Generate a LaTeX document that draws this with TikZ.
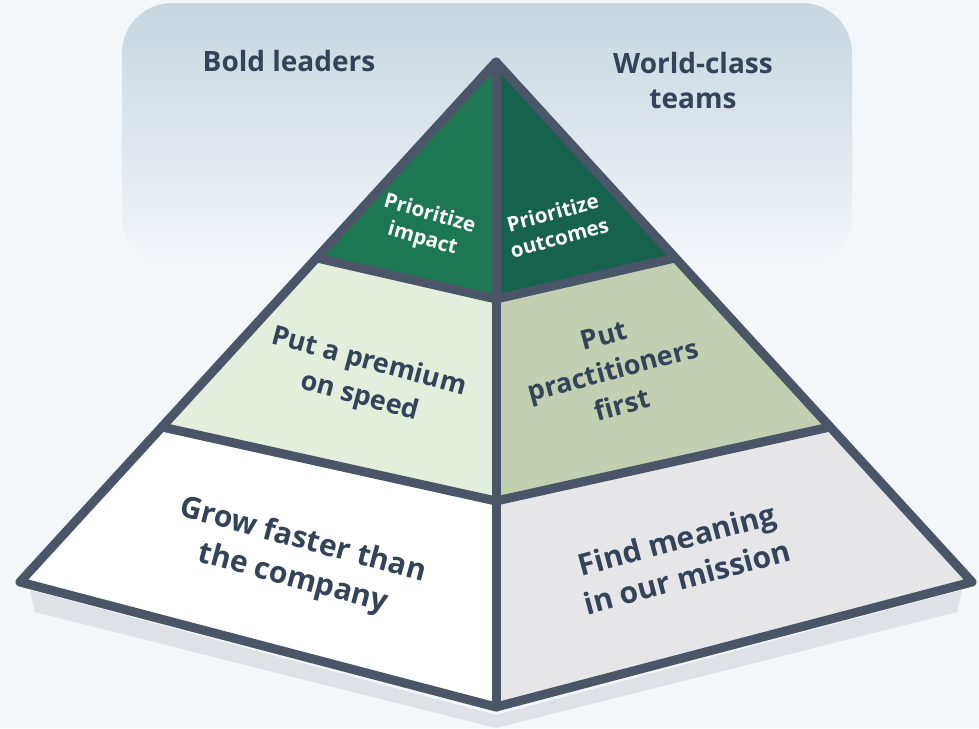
\documentclass[tikz,border=0pt]{standalone}
\usepackage{fontspec}
\setmainfont{Open Sans}
\usepackage{tikz}
\usetikzlibrary{positioning}

\definecolor{bgcol}{HTML}{F4F7FA}
\definecolor{skycol}{HTML}{C8D5DF}
\definecolor{edgecol}{HTML}{4B5568}
\definecolor{inkcol}{HTML}{34435A}
\definecolor{shadowcol}{HTML}{DEE2E7}
\definecolor{topleft}{HTML}{1D7753}
\definecolor{topright}{HTML}{17624C}
\definecolor{midleft}{HTML}{E3EEDD}
\definecolor{midright}{HTML}{C2CFB0}
\definecolor{lowleft}{HTML}{FFFFFF}
\definecolor{lowright}{HTML}{E6E6E8}

\tikzset{
  edge/.style={draw=edgecol, line width=9pt, line join=round, line cap=round},
  lbl/.style={text=inkcol, font=\bfseries, align=center, inner sep=0pt},
  toplbl/.style={text=white, font=\fontsize{20.5}{26}\selectfont\bfseries, align=center, inner sep=0pt},
}

\begin{document}
\begin{tikzpicture}[x=1pt, y=-1pt]
            \useasboundingbox (0,0) rectangle (979,728);
            \fill[bgcol] (0,0) rectangle (979,728);
            \shade[top color=skycol, bottom color=bgcol, rounded corners=50pt] (122,3) rectangle (852,268);
            % corners of the pyramid
            \coordinate (apex) at (496,62);
            \coordinate (lft) at (20,582);
            \coordinate (rgt) at (972,582);
            \coordinate (bot) at (496,707);
            \coordinate (l1) at (317,258);
            \coordinate (c1) at (496,299);
            \coordinate (r1) at (675,258);
            \coordinate (l2) at (162,427);
            \coordinate (c2) at (496,501);
            \coordinate (r2) at (830,427);
            \fill[shadowcol] (30,590) -- (496,715) -- (962,590) -- (957,612) -- (496,728) -- (35,612) -- cycle;
            % faces
            \fill[topleft] (apex) -- (l1) -- (c1) -- cycle;
            \fill[topright] (apex) -- (c1) -- (r1) -- cycle;
            \fill[midleft] (l1) -- (l2) -- (c2) -- (c1) -- cycle;
            \fill[midright] (c1) -- (c2) -- (r2) -- (r1) -- cycle;
            \fill[lowleft] (l2) -- (lft) -- (bot) -- (c2) -- cycle;
            \fill[lowright] (c2) -- (bot) -- (rgt) -- (r2) -- cycle;
            % lines
            \draw[edge] (l1) -- (c1) -- (r1);
            \draw[edge] (l2) -- (c2) -- (r2);
            \draw[edge] (apex) -- (bot);
            \draw[edge] (apex) -- (lft) -- (bot) -- (rgt) -- cycle;
            % labels
            \node[lbl, font=\fontsize{28}{35}\selectfont\bfseries] (boldlbl) at (289,61) {Bold leaders};
            \node[lbl, font=\fontsize{28}{35}\selectfont\bfseries] (worldlbl) at (693,80) {World-class\\teams};
            \node[toplbl, rotate=-16] (impactlbl) at (426,227) {Prioritize\\impact};
            \node[toplbl, rotate=15] (outcomelbl) at (556,225) {Prioritize\\outcomes};
            \node[lbl, font=\fontsize{27}{36}\selectfont\bfseries, rotate=-15] (speedlbl) at (364,380) {Put a premium\\on speed};
            \node[lbl, font=\fontsize{27}{36}\selectfont\bfseries, rotate=15] (practlbl) at (613,370) {Put\\practitioners\\first};
            \node[lbl, font=\fontsize{30}{39}\selectfont\bfseries, rotate=-15] (growlbl) at (298,560) {Grow faster than\\the company};
            \node[lbl, font=\fontsize{30}{39}\selectfont\bfseries, rotate=15] (meaninglbl) at (682,558) {Find meaning\\in our mission};
        \end{tikzpicture}
\end{document}
